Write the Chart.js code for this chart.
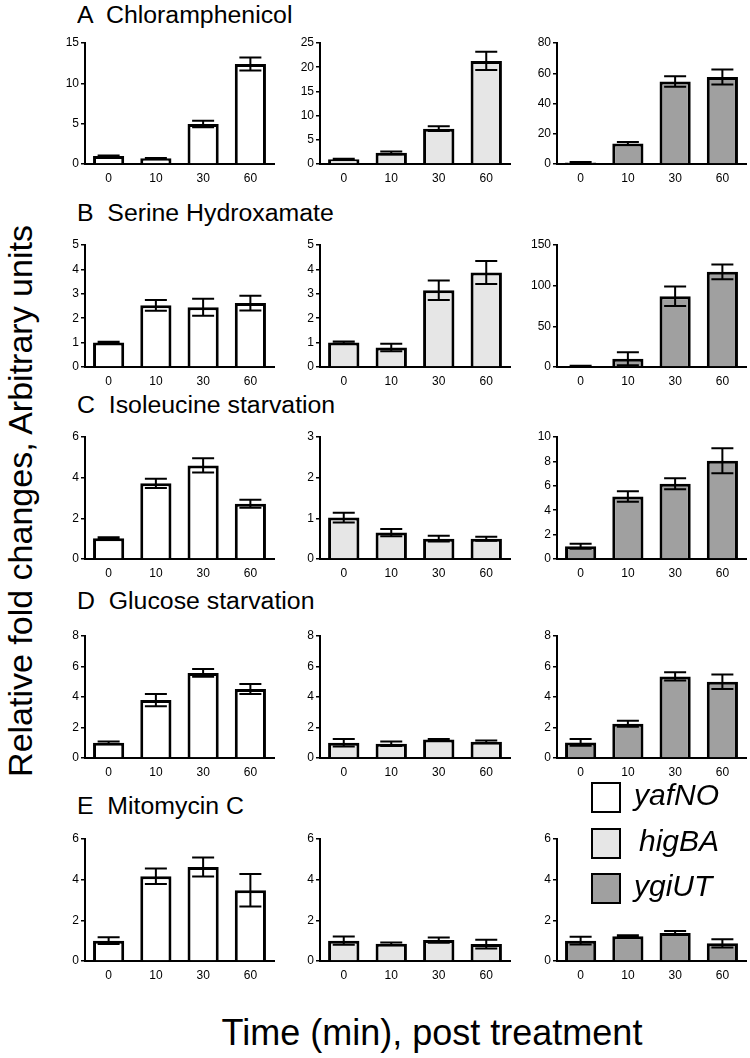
<!DOCTYPE html>
<html>
<head>
<meta charset="utf-8">
<script src="https://cdn.jsdelivr.net/npm/chart.js@4.4.0/dist/chart.umd.min.js"></script>
<style>
  body { margin: 0; background: #fff; }
  #page {
    position: relative; width: 750px; height: 1058px; overflow: hidden;
    font-family: "Liberation Sans", Arial, sans-serif; color: #000; background: #fff;
  }
  .panel { position: absolute; }
  .title {
    position: absolute; font-size: 23px; line-height: 23px; white-space: pre;
    transform: scaleX(1.08); transform-origin: left center;
  }
  #ytitle {
    position: absolute; width: 700px; left: -330px; top: 484px;
    font-size: 34px; line-height: 34px; text-align: center; white-space: nowrap;
    transform: rotate(-90deg);
  }
  #xtitle {
    position: absolute; left: 132px; width: 600px; top: 1015px;
    font-size: 36px; line-height: 36px; text-align: center; white-space: nowrap;
  }
  .legbox { position: absolute; width: 26px; height: 27px; border: 2px solid #000; }
  .legtext { position: absolute; font-size: 30px; line-height: 30px; font-style: italic; white-space: nowrap; }
</style>
</head>
<body>
<div id="page">
  <div id="ytitle">Relative fold changes, Arbitrary units</div>
  <div id="xtitle">Time (min), post treatment</div>
</div>
<script>
// Relative fold changes after treatment, three toxin-antitoxin loci

const timePoints = ['0', '10', '30', '60'];
const genes = ['yafNO', 'higBA', 'ygiUT'];
const panelTitles = ['A  Chloramphenicol', 'B  Serine Hydroxamate', 'C  Isoleucine starvation',
                     'D  Glucose starvation', 'E  Mitomycin C'];

// means and error bars, one row per gene (yafNO, higBA, ygiUT)
const chloramphenicolMeans  = [[1.0, 0.7, 4.95, 12.4], [1.0, 2.3, 7.3, 21.3], [1.0, 13.5, 54.5, 57.5]];
const chloramphenicolErrors = [[0.05, 0.05, 0.4, 0.8], [0.1, 0.3, 0.5, 1.9], [0.3, 1.0, 3.5, 5.0]];
const serineMeans  = [[1.0, 2.53, 2.45, 2.62], [1.0, 0.8, 3.15, 3.87], [1.0, 10, 87, 117]];
const serineErrors = [[0.03, 0.22, 0.35, 0.3], [0.05, 0.15, 0.4, 0.47], [0.5, 8, 12, 9]];
const isoleucineMeans  = [[1.02, 3.72, 4.6, 2.72], [1.02, 0.65, 0.5, 0.5], [1.05, 5.13, 6.17, 8.05]];
const isoleucineErrors = [[0.05, 0.23, 0.35, 0.2], [0.12, 0.09, 0.07, 0.05], [0.2, 0.43, 0.45, 1.03]];
const glucoseMeans  = [[1.0, 3.8, 5.58, 4.53], [1.0, 0.93, 1.22, 1.07], [1.02, 2.25, 5.35, 5.0]];
const glucoseErrors = [[0.08, 0.4, 0.25, 0.33], [0.24, 0.15, 0.02, 0.08], [0.22, 0.2, 0.27, 0.48]];
const mitomycinMeans  = [[1.0, 4.17, 4.62, 3.48], [1.0, 0.85, 1.03, 0.83], [1.0, 1.22, 1.38, 0.87]];
const mitomycinErrors = [[0.17, 0.38, 0.47, 0.8], [0.2, 0.06, 0.13, 0.22], [0.19, 0.05, 0.1, 0.2]];

// y axis tick range per panel: max and step
const yMax  = [[15, 25, 80], [5, 5, 150], [6, 3, 10], [8, 8, 8], [6, 6, 6]];
const yStep = [[5, 5, 20], [1, 1, 50], [2, 1, 2], [2, 2, 2], [2, 2, 2]];

const allMeans  = [chloramphenicolMeans, serineMeans, isoleucineMeans, glucoseMeans, mitomycinMeans];
const allErrors = [chloramphenicolErrors, serineErrors, isoleucineErrors, glucoseErrors, mitomycinErrors];

// layout (page pixels)
const colLeft = [85, 320, 557];
const colRight = [274, 510, 746];
const rowTop = [43, 245, 437, 636, 839];
const rowBottom = [164, 367, 559, 758, 961];
const titleBaseline = [23, 221, 413, 609, 814];
const geneFill = ['#ffffff', '#e6e6e6', '#a0a0a0'];

const FONT = '"Liberation Sans", Arial, sans-serif';
const padTop = 10, yAxisW = 40, xAxisH = 24, padRight = 4;

const errorBars = {
    id: 'errorBars',
    afterDatasetsDraw(chart) {
        const ctx = chart.ctx;
        const ds = chart.data.datasets[0];
        const yScale = chart.scales.y;
        ctx.save();
        ctx.strokeStyle = '#000';
        ctx.lineWidth = 2;
        chart.getDatasetMeta(0).data.forEach((bar, i) => {
            const v = ds.data[i], e = ds.errors[i];
            const yHi = yScale.getPixelForValue(v + e);
            const yLo = yScale.getPixelForValue(Math.max(v - e, 0));
            const half = 11;
            ctx.beginPath();
            ctx.moveTo(bar.x, yHi); ctx.lineTo(bar.x, yLo);
            ctx.moveTo(bar.x - half, yHi); ctx.lineTo(bar.x + half, yHi);
            ctx.moveTo(bar.x - half, yLo); ctx.lineTo(bar.x + half, yLo);
            ctx.stroke();
        });
        ctx.restore();
    }
};

const page = document.getElementById('page');

function makePanel(row, col) {
    const L = colLeft[col], R = colRight[col], T = rowTop[row], B = rowBottom[row];
    const w = (R - L) + yAxisW + padRight;
    const h = (B - T) + padTop + xAxisH;
    const box = document.createElement('div');
    box.className = 'panel';
    box.style.left = (L - yAxisW) + 'px';
    box.style.top = (T - padTop) + 'px';
    box.style.width = w + 'px';
    box.style.height = h + 'px';
    const canvas = document.createElement('canvas');
    box.appendChild(canvas);
    page.appendChild(box);

    new Chart(canvas, {
        type: 'bar',
        data: {
            labels: timePoints,
            datasets: [{
                label: genes[col],
                data: allMeans[row][col],
                errors: allErrors[row][col],
                backgroundColor: geneFill[col],
                borderColor: '#000',
                borderWidth: 3,
                barPercentage: 0.66,
                categoryPercentage: 1
            }]
        },
        options: {
            responsive: true,
            maintainAspectRatio: false,
            animation: false,
            devicePixelRatio: 1,
            layout: { padding: { top: padTop, right: padRight, left: 0, bottom: 0 } },
            plugins: { legend: { display: false }, tooltip: { enabled: false } },
            scales: {
                x: {
                    grid: { display: false, drawTicks: false },
                    border: { display: true, color: '#000', width: 2 },
                    ticks: { color: '#000', padding: 7, font: { family: FONT, size: 12 } },
                    afterFit: s => { s.height = xAxisH; }
                },
                y: {
                    min: 0,
                    max: yMax[row][col],
                    grid: { drawOnChartArea: false, drawTicks: true, tickLength: 4, color: '#000', lineWidth: 1.5 },
                    border: { display: true, color: '#000', width: 2 },
                    ticks: { stepSize: yStep[row][col], color: '#000', padding: 2, font: { family: FONT, size: 12 } },
                    afterFit: s => { s.width = yAxisW; }
                }
            }
        },
        plugins: [errorBars]
    });
}

for (let r = 0; r < 5; r++) {
    const t = document.createElement('div');
    t.className = 'title';
    t.textContent = panelTitles[r];
    t.style.left = '77px';
    t.style.top = (titleBaseline[r] - 19.5) + 'px';
    page.appendChild(t);
    for (let c = 0; c < 3; c++) makePanel(r, c);
}

// legend
const legendY = [782, 828, 873];
const legendTextX = [634, 639, 634];
genes.forEach((g, i) => {
    const b = document.createElement('div');
    b.className = 'legbox';
    b.style.left = '591px';
    b.style.top = legendY[i] + 'px';
    b.style.background = geneFill[i];
    page.appendChild(b);
    const t = document.createElement('div');
    t.className = 'legtext';
    t.textContent = g;
    t.style.left = legendTextX[i] + 'px';
    t.style.top = (legendY[i] + 15 - 17) + 'px';
    page.appendChild(t);
});
</script>
</body>
</html>
